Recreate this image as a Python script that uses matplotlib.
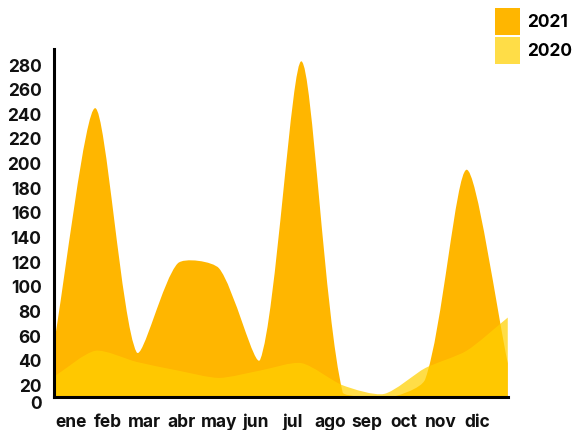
import matplotlib
matplotlib.use("Agg")
import matplotlib.pyplot as plt
import numpy as np
from matplotlib.patches import Patch, PathPatch
from matplotlib.path import Path

plt.rcParams["font.family"] = ["Inter", "DejaVu Sans"]
plt.rcParams["font.weight"] = "bold"

months = ["ene", "feb", "mar", "abr", "may", "jun",
          "jul", "ago", "sep", "oct", "nov", "dic"]
sales_2021 = [54, 245, 47, 119, 115, 41, 283, 14, 9, 25, 195, 38]
sales_2020 = [27, 48, 39, 32, 26, 32, 38, 20, 13, 34, 48, 75]
y_ticks = list(range(20, 281, 20))

color_2021 = "#FFB600"
color_2020 = "#FFD000"
tension = 0.25


def spline_area(ax, values, **kwargs):
    # chart.js style bezier spline, control points worked out in pixel space
    pts = ax.transData.transform(np.column_stack([np.arange(len(values)), values]))
    box = ax.bbox
    n = len(pts)
    c_prev, c_next = [], []
    for i in range(n):
        prev = pts[i - 1] if i > 0 else pts[i]
        nxt = pts[i + 1] if i < n - 1 else pts[i]
        cur = pts[i]
        d01 = np.hypot(*(cur - prev))
        d12 = np.hypot(*(nxt - cur))
        tot = d01 + d12
        s01 = d01 / tot if tot else 0
        s12 = d12 / tot if tot else 0
        fa, fb = tension * s01, tension * s12
        cp = cur - fa * (nxt - prev)
        cn = cur + fb * (nxt - prev)
        cp[1] = np.clip(cp[1], box.y0, box.y1)
        cn[1] = np.clip(cn[1], box.y0, box.y1)
        c_prev.append(cp)
        c_next.append(cn)
    base = box.y0 - 20
    verts = [(pts[0][0], base), tuple(pts[0])]
    codes = [Path.MOVETO, Path.LINETO]
    for i in range(n - 1):
        verts += [tuple(c_next[i]), tuple(c_prev[i + 1]), tuple(pts[i + 1])]
        codes += [Path.CURVE4] * 3
    verts += [(pts[-1][0], base), (pts[0][0], base)]
    codes += [Path.LINETO, Path.CLOSEPOLY]
    data_verts = ax.transData.inverted().transform(np.array(verts))
    patch = PathPatch(Path(data_verts, codes), linewidth=0, **kwargs)
    ax.add_patch(patch)
    patch.set_clip_box(ax.bbox)
    return patch


fig = plt.figure(figsize=(5.77, 4.30), dpi=100)
ax = fig.add_axes([0.0936, 0.0767, 0.7864, 0.8093])
ax.set_xlim(0, 11)
ax.set_ylim(10.5, 293)

spline_area(ax, sales_2021, facecolor=color_2021)
spline_area(ax, sales_2020, facecolor=color_2020, alpha=0.72)

for side in ["top", "right"]:
    ax.spines[side].set_visible(False)
for side in ["left", "bottom"]:
    ax.spines[side].set_linewidth(2.2)
    ax.spines[side].set_color("black")
    ax.spines[side].set_zorder(5)

ax.set_xticks(np.linspace(0.41, 10.27, len(months)), months)
ax.set_yticks(y_ticks)
ax.tick_params(axis="both", length=0, labelsize=12.5, colors="#111111")
ax.tick_params(axis="x", pad=12)
ax.tick_params(axis="y", pad=9)
ax.annotate("0", xy=(0, 5.7), xycoords=("axes fraction", "data"),
            xytext=(-9, -1), textcoords="offset points",
            ha="right", va="center", fontsize=12.5, color="#111111",
            annotation_clip=False)

handles = [Patch(facecolor=color_2021, edgecolor="none"),
           Patch(facecolor=color_2020, alpha=0.72, edgecolor="none")]
fig.legend(handles, ["2021", "2020"], loc="upper right",
           bbox_to_anchor=(1.01, 1.005), frameon=False, fontsize=12.5,
           handlelength=1.45, handleheight=2.0, handletextpad=0.4,
           labelspacing=0.1, borderaxespad=0.2)

fig.savefig("out.png", dpi=100)
